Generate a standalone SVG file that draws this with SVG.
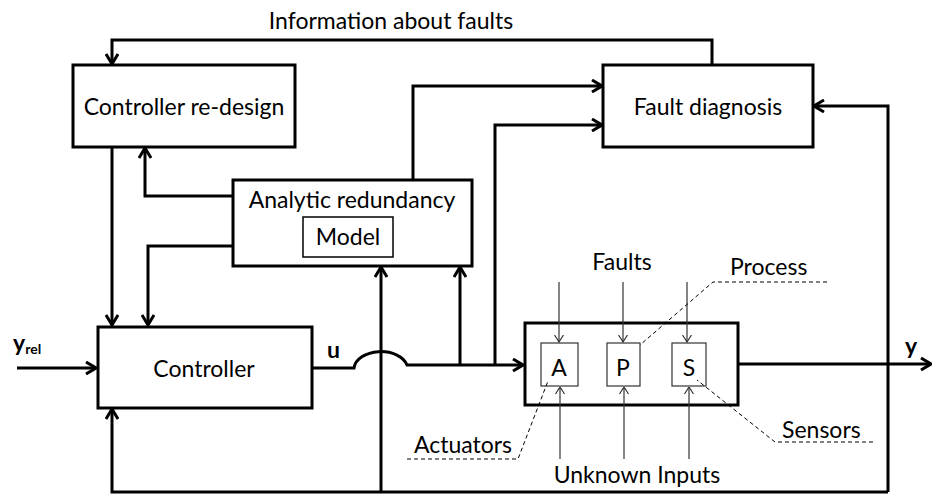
<svg xmlns="http://www.w3.org/2000/svg" width="933" height="495" viewBox="0 0 933 495">
<style>
text{font-family:Lato,"Open Sans","Liberation Sans",sans-serif;font-size:23px;fill:#000}
.box{fill:#fff;stroke:#000;stroke-width:3}
.sub{fill:#fff;stroke:#333;stroke-width:1.2}
.c{fill:none;stroke:#000;stroke-width:3}
.t{fill:none;stroke:#333;stroke-width:1.2}
.d{fill:none;stroke:#000;stroke-width:1;stroke-dasharray:4 3}
.b{font-weight:bold}
</style>
<defs>
<marker id="ah" viewBox="0 0 12 14" refX="11" refY="7" markerWidth="12" markerHeight="14" markerUnits="userSpaceOnUse" orient="auto">
<path d="M1,1 L11,7 L1,13" fill="none" stroke="#000" stroke-width="3"/>
</marker>
<marker id="sh" viewBox="0 0 8 10" refX="7.5" refY="5" markerWidth="8" markerHeight="10" markerUnits="userSpaceOnUse" orient="auto">
<path d="M0.5,0.5 L7.5,5 L0.5,9.5" fill="none" stroke="#333" stroke-width="1.2"/>
</marker>
</defs>
<text x="391" y="29" text-anchor="middle">Information about faults</text>
<g id="redesign">
<rect class="box" x="73" y="65" width="222" height="82"/>
<text x="184" y="115" text-anchor="middle">Controller re-design</text>
</g>
<g id="faultdiag">
<rect class="box" x="603" y="65" width="210" height="82"/>
<text x="708" y="115" text-anchor="middle">Fault diagnosis</text>
</g>
<g id="analytic">
<rect class="box" x="233" y="180" width="239" height="86"/>
<text x="352" y="208" text-anchor="middle">Analytic redundancy</text>
<rect x="303" y="217" width="90" height="40" fill="#fff" stroke="#000" stroke-width="1.5"/>
<text x="348" y="245" text-anchor="middle">Model</text>
</g>
<g id="controller">
<rect class="box" x="98" y="327" width="214" height="81"/>
<text x="204" y="377" text-anchor="middle">Controller</text>
</g>
<g id="process">
<rect class="box" x="525" y="323" width="213" height="82"/>
<rect class="sub" x="541" y="343" width="37" height="43"/>
<text x="559" y="376" text-anchor="middle">A</text>
<rect class="sub" x="607" y="343" width="33" height="43"/>
<text x="623" y="376" text-anchor="middle">P</text>
<rect class="sub" x="672" y="343" width="34" height="43"/>
<text x="689" y="376" text-anchor="middle">S</text>
</g>
<g id="connectors">
<path class="c" d="M712,65 V40 H112 V64" marker-end="url(#ah)"/>
<path class="c" d="M112,147 V325" marker-end="url(#ah)"/>
<path class="c" d="M233,196 H145 V148" marker-end="url(#ah)"/>
<path class="c" d="M233,246 H148 V325" marker-end="url(#ah)"/>
<path class="c" d="M413,180 V86 H602" marker-end="url(#ah)"/>
<path class="c" d="M495,365 V125 H602" marker-end="url(#ah)"/>
<path class="c" d="M460,365 V267" marker-end="url(#ah)"/>
<path class="c" d="M381,492 V267" marker-end="url(#ah)"/>
<path class="c" d="M888,492 V106 H814" marker-end="url(#ah)"/>
<path class="c" d="M888,492 H112 V409" marker-end="url(#ah)"/>
<path class="c" d="M17,368 H96" marker-end="url(#ah)"/>
<path class="c" d="M312,368 H354 A27,18 0 0 1 407,365 H523" marker-end="url(#ah)"/>
<path class="c" d="M738,364 H931" marker-end="url(#ah)"/>
<path class="t" d="M559,282 V342" marker-end="url(#sh)"/>
<path class="t" d="M623,282 V342" marker-end="url(#sh)"/>
<path class="t" d="M687,282 V342" marker-end="url(#sh)"/>
<path class="t" d="M560,459 V387" marker-end="url(#sh)"/>
<path class="t" d="M624,459 V387" marker-end="url(#sh)"/>
<path class="t" d="M689,459 V387" marker-end="url(#sh)"/>
<path class="d" d="M407,459 H518 L548,381"/>
<path class="d" d="M827,282 H713 L640,345"/>
<path class="d" d="M873,442 H775 L697,380"/>
</g>
<text x="13" y="351" class="b">y<tspan font-size="14" dy="3">rel</tspan></text>
<text x="327" y="358" class="b">u</text>
<text x="905" y="354" class="b">y</text>
<text x="622" y="270" text-anchor="middle">Faults</text>
<text x="730" y="275">Process</text>
<text x="414" y="453">Actuators</text>
<text x="782" y="438">Sensors</text>
<text x="637" y="483" text-anchor="middle">Unknown Inputs</text>
</svg>
